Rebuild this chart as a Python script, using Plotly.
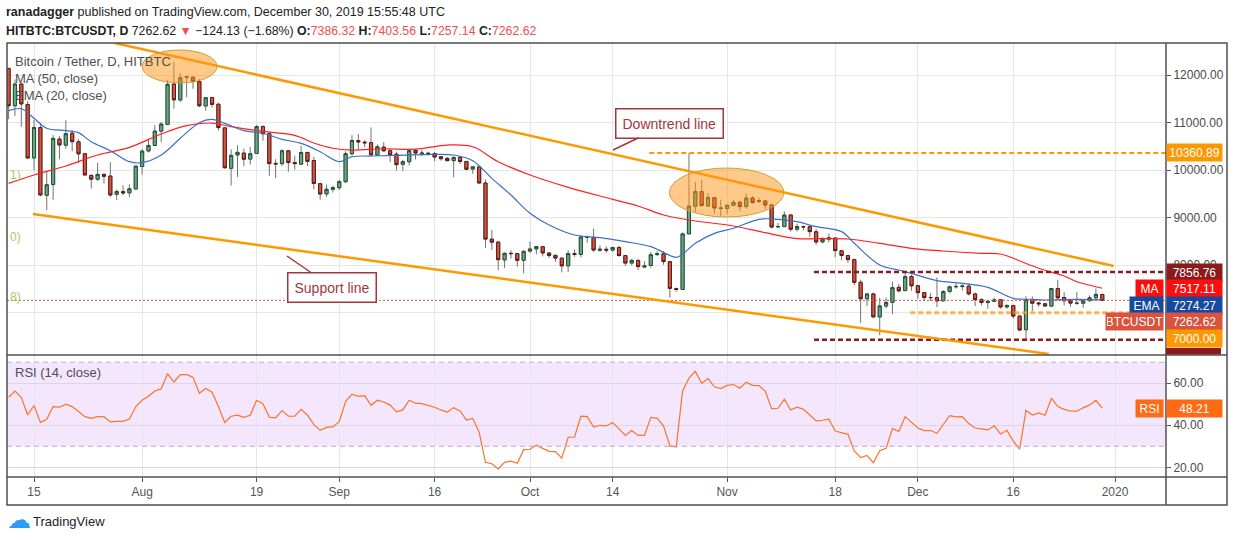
import pandas as pd
import plotly.graph_objects as go
from plotly.subplots import make_subplots

# daily candles, 2019-07-11 .. 2019-12-30
DATES = pd.date_range("2019-07-11", "2019-12-30", freq="D")

OPEN = [
    12139, 11354, 11810, 11381, 10257, 10896, 9471, 9698, 10653, 10525, 10777, 10596, 10346, 9887, 9809, 9913, 9876, 9492, 9549, 9523, 9604,
    10077, 10403, 10519, 10822, 10960, 11811, 11476, 11954, 11953, 11861, 11349, 11528, 11385, 10889, 10038, 10319, 10358, 10233, 10350, 10916, 10765, 10142, 10136, 10407, 10160, 10126, 10372, 10203, 9715, 9501, 9597,
    9631, 9757, 10345, 10621, 10588, 10578, 10318, 10484, 10409, 10336, 10123, 10177, 10415, 10345, 10356, 10347, 10281, 10248, 10200, 10266, 10183, 10024, 10067, 9729, 8550, 8487, 8113, 8251, 8246, 8104,
    8299, 8344, 8391, 8259, 8210, 8149, 7989, 8246, 8229, 8585, 8586, 8316, 8336, 8320, 8373, 8204, 8047, 8100, 7963, 7997, 8225, 8243, 8076, 7509, 7491, 8660, 9241, 9549, 9249, 9422, 9202,
    9193, 9259, 9324, 9235, 9414, 9340, 9353, 9268, 8809, 8813, 9057, 8759, 8812, 8812, 8705, 8491, 8549, 8573, 8305, 8204, 8120, 7643, 7297, 7398, 6915, 7145, 7220, 7536, 7467, 7764,
    7571, 7425, 7323, 7321, 7254, 7450, 7547, 7552, 7561, 7398, 7277, 7216, 7244, 7277, 7124, 7153, 6931, 6647, 7278, 7208, 7191, 7142, 7509, 7323, 7256, 7201, 7203, 7255, 7316, 7386.32,
]
HIGH = [
    12140, 11905, 11841, 11451, 11052, 10996, 9963, 10736, 10716, 11048, 10841, 10651, 10346, 9917, 10154, 9917, 10167, 9591, 9681, 9701, 10085,
    10447, 10657, 10946, 11010, 11895, 12273, 12036, 11979, 11970, 11915, 11523, 11528, 11420, 10889, 10437, 10524, 10452, 10487, 10947, 10947, 10796, 10232, 10440, 10418, 10305, 10512, 10382, 10279, 9715, 9697, 9673,
    9796, 10396, 10736, 10762, 10627, 10898, 10541, 10592, 10455, 10390, 10215, 10447, 10441, 10422, 10387, 10386, 10296, 10275, 10295, 10285, 10188, 10074, 10074, 9804, 8744, 8515, 8271, 8316, 8246, 8314,
    8497, 8385, 8392, 8260, 8215, 8161, 8316, 8332, 8627, 8625, 8775, 8420, 8397, 8390, 8410, 8216, 8134, 8138, 8082, 8281, 8297, 8296, 8092, 7532, 8691, 10360.89, 9749, 9805, 9517, 9424, 9383,
    9275, 9377, 9358, 9505, 9458, 9423, 9366, 9272, 8891, 9133, 9064, 8876, 8834, 8816, 8757, 8590, 8667, 8574, 8305, 8216, 8140, 7697, 7420, 7421, 7319, 7320, 7656, 7608, 7856.76, 7804,
    7571, 7427, 7418, 7743, 7480, 7575, 7621, 7599, 7618, 7425, 7305, 7266, 7319, 7279, 7181, 7171, 6965, 7350, 7346, 7223, 7194, 7519, 7696, 7436, 7272, 7436, 7291, 7365, 7513, 7403.56,
]
LOW = [
    11070, 11139, 10908, 10234, 9992, 9448, 9163, 9376, 10229, 10451, 10399, 10154, 9883, 9614, 9774, 9717, 9434, 9370, 9472, 9434, 9599,
    9908, 10371, 10503, 10591, 10960, 11291, 11433, 11534, 11710, 11323, 11248, 11320, 10830, 10028, 9675, 9856, 10086, 10119, 10350, 10618, 9882, 9831, 10088, 9968, 10008, 10126, 10087, 9601, 9379, 9440, 9531,
    9582, 9730, 10308, 10434, 10481, 10292, 10308, 10393, 10171, 9992, 9980, 10099, 10226, 10291, 10313, 10189, 10199, 10191, 9851, 10132, 10000, 9922, 9727, 8370, 8325, 7896, 7942, 8142, 7974, 7830,
    8263, 8227, 8185, 8151, 8071, 7849, 7856, 8177, 8169, 8471, 8285, 8284, 8260, 8284, 8182, 7985, 8001, 7902, 7944, 7949, 8196, 8010, 7320, 7446, 7479, 8657, 9112, 9230, 9232, 9085, 9028,
    9072, 9249, 9141, 9191, 9293, 9305, 9187, 8775, 8793, 8812, 8707, 8713, 8734, 8602, 8431, 8471, 8479, 8172, 8105, 8053, 7585, 6790, 7145, 6900, 6530, 7098, 6974, 7427, 7461, 7464,
    7291, 7247, 7250, 7119, 7233, 7410, 7508, 7473, 7365, 7141, 7156, 7086, 7236, 7089, 7089, 6874, 6617, 6435, 7038, 7129, 7127, 7142, 7269, 7157, 7129, 7169, 7105, 7238, 7289, 7257.14,
]
CLOSE = [
    11354, 11810, 11392, 10256, 10896, 9478, 9693, 10667, 10530, 10767, 10599, 10343, 9900, 9811, 9911, 9871, 9478, 9552, 9519, 9607, 10085,
    10399, 10519, 10821, 10970, 11805, 11478, 11941, 11966, 11862, 11354, 11523, 11382, 10895, 10051, 10311, 10374, 10231, 10345, 10916, 10764, 10138, 10131, 10407, 10159, 10138, 10370, 10185, 9722, 9498, 9598, 9631,
    9758, 10347, 10624, 10594, 10576, 10321, 10491, 10406, 10324, 10115, 10178, 10410, 10360, 10358, 10347, 10276, 10241, 10199, 10266, 10181, 10019, 10070, 9730, 8550, 8486, 8118, 8251, 8245, 8104, 8293,
    8343, 8393, 8260, 8205, 8151, 7988, 8245, 8228, 8595, 8586, 8321, 8336, 8321, 8374, 8205, 8047, 8103, 7973, 7988, 8222, 8243, 8078, 7514, 7493, 8660, 9244, 9551, 9256, 9427, 9205, 9199,
    9261, 9324, 9235, 9413, 9320, 9360, 9267, 8804, 8813, 9055, 8757, 8815, 8808, 8708, 8491, 8550, 8577, 8309, 8206, 8120, 7642, 7296, 7397, 6915, 7146, 7219, 7531, 7463, 7761, 7569,
    7424, 7321, 7320, 7252, 7448, 7547, 7556, 7564, 7400, 7278, 7217, 7243, 7269, 7124, 7152, 6932, 6640, 7276, 7203, 7191, 7145, 7512, 7317, 7256, 7205, 7202, 7254, 7316, 7388, 7262.62,
]

RSI = [
    53.3, 56.3, 53.3, 44.9, 49.4, 41.4, 42.9, 48.9, 48.6, 50.0, 48.9, 46.5, 44.1, 43.3, 44.1, 44.1, 41.6, 41.9, 41.9, 43.0, 48.9,
    51.9, 53.8, 56.3, 57.3, 64.6, 60.6, 64.1, 64.1, 62.9, 55.2, 57.5, 55.7, 48.9, 41.4, 44.3, 44.8, 43.8, 44.8, 51.9, 50.3, 43.8, 43.5, 47.0, 44.3, 44.3, 47.6, 44.9, 40.3, 37.6, 39.0, 39.2,
    41.7, 51.3, 54.8, 53.8, 54.1, 49.5, 51.9, 51.1, 49.6, 46.4, 47.3, 51.9, 50.5, 50.3, 49.4, 48.6, 47.3, 46.3, 48.4, 46.8, 42.5, 43.3, 36.7, 22.4, 21.7, 19.2, 22.4, 22.9, 21.9, 28.4,
    28.6, 30.5, 29.0, 27.6, 27.5, 24.4, 34.3, 34.4, 44.3, 44.1, 39.2, 40.0, 39.7, 41.3, 38.3, 35.2, 37.5, 35.2, 35.2, 43.8, 43.3, 39.7, 30.2, 29.7, 56.3, 62.4, 65.7, 60.0, 62.2, 58.3, 57.5,
    59.0, 59.4, 57.6, 60.5, 59.0, 58.9, 56.3, 47.8, 48.1, 52.4, 47.3, 48.6, 47.6, 44.9, 42.1, 42.4, 42.9, 37.3, 36.5, 35.7, 27.8, 24.6, 25.7, 22.2, 27.9, 29.0, 38.4, 37.1, 44.1, 41.4,
    38.7, 37.5, 37.5, 36.2, 40.6, 44.6, 44.0, 44.1, 40.8, 38.7, 38.3, 37.8, 39.8, 35.9, 37.6, 32.5, 28.6, 47.1, 44.9, 45.9, 44.8, 52.9, 48.9, 47.6, 46.8, 46.7, 48.3, 49.7, 51.9, 48.21,
]

# MA (50)
MA_DATES = ["2019-07-11", "2019-07-15", "2019-07-20", "2019-07-25", "2019-07-30", "2019-08-04", "2019-08-08",
            "2019-08-12", "2019-08-15", "2019-08-20", "2019-08-25", "2019-08-28", "2019-08-31", "2019-09-03",
            "2019-09-08", "2019-09-13", "2019-09-18", "2019-09-22", "2019-09-26", "2019-10-01", "2019-10-07",
            "2019-10-14", "2019-10-18", "2019-10-22", "2019-10-26", "2019-11-02", "2019-11-07", "2019-11-12",
            "2019-11-15", "2019-11-20", "2019-11-25", "2019-11-30", "2019-12-05", "2019-12-11", "2019-12-14",
            "2019-12-16", "2019-12-20", "2019-12-24", "2019-12-26", "2019-12-30"]
MA_VALUES = [9723, 9898, 10087, 10318, 10480, 10760, 10935,
             10990, 10914, 10815, 10730, 10570, 10460, 10423,
             10450, 10440, 10528, 10493, 10178, 9898, 9639,
             9387, 9246, 9057, 8952, 8826, 8685, 8560,
             8559, 8553, 8462, 8357, 8300, 8252, 8237,
             8147, 7937, 7775, 7655, 7517.11]

# EMA (20)
EMA_DATES = ["2019-07-11", "2019-07-13", "2019-07-15", "2019-07-17", "2019-07-20", "2019-07-22", "2019-07-24",
             "2019-07-27", "2019-07-30", "2019-08-01", "2019-08-04", "2019-08-07", "2019-08-10", "2019-08-12",
             "2019-08-14", "2019-08-17", "2019-08-20", "2019-08-23", "2019-08-26", "2019-08-29", "2019-09-01",
             "2019-09-03", "2019-09-06", "2019-09-10", "2019-09-16", "2019-09-19", "2019-09-22", "2019-09-25",
             "2019-09-28", "2019-10-01", "2019-10-04", "2019-10-08", "2019-10-12", "2019-10-16", "2019-10-20",
             "2019-10-24", "2019-10-25", "2019-10-27", "2019-10-30", "2019-11-02", "2019-11-06", "2019-11-09",
             "2019-11-12", "2019-11-15", "2019-11-19", "2019-11-21", "2019-11-25", "2019-11-28", "2019-11-30",
             "2019-12-04", "2019-12-08", "2019-12-12", "2019-12-16", "2019-12-19", "2019-12-21", "2019-12-26",
             "2019-12-30"]
EMA_VALUES = [11250, 11290, 11089, 10880, 10830, 10788, 10598,
              10409, 10178, 10157, 10318, 10669, 10998, 11068,
              10984, 10830, 10775, 10648, 10564, 10388, 10178,
              10283, 10297, 10310, 10333, 10318, 10199, 9828,
              9477, 9093, 8847, 8637, 8580, 8496, 8391,
              8168, 8237, 8462, 8672, 8778, 8967, 8967,
              8917, 8812, 8707, 8462, 8006, 7901, 7831,
              7676, 7621, 7537, 7306, 7285, 7270, 7285,
              7274.27]

TICK_DATES = ["2019-07-15", "2019-08-01", "2019-08-19", "2019-09-01", "2019-09-16", "2019-10-01",
              "2019-10-14", "2019-11-01", "2019-11-18", "2019-12-01", "2019-12-16", "2020-01-01"]
TICK_TEXT = ["15", "Aug", "19", "Sep", "16", "Oct", "14", "Nov", "18", "Dec", "16", "2020"]

# the 7000 label sits under the value boxes, only its grid line shows
PRICE_TICKS = [7000, 8000, 9000, 10000, 11000, 12000]
PRICE_TICK_TEXT = ["", "8000.00", "9000.00", "10000.00", "11000.00", "12000.00"]
RSI_TICKS = [20, 40, 60]
RSI_TICK_TEXT = ["20.00", "40.00", "60.00"]

X_RANGE = ["2019-07-10 18:00", "2020-01-09 00:30"]
PRICE_RANGE = [6114, 12673]
RSI_RANGE = [15.4, 73.2]

# drawings on the chart
UPPER_LINE = [("2019-07-27 16:00", 12673), ("2019-12-31 19:00", 7985)]
LOWER_LINE = [("2019-07-14 20:00", 9078), ("2019-12-21 14:00", 6135)]

UP_FILL, UP_BORDER = "#6ba583", "#225437"
DOWN_FILL, DOWN_BORDER = "#d75442", "#5b1a13"
WICK = "#737375"
ORANGE = "#ff9800"
DARK_RED = "#8b1a1a"
CALLOUT = "#a3363c"
FONT = "Liberation Sans"

# pixel geometry of the plotting area
PL, PR, PT, PB = 7, 1166, 43, 477


def px_x(x):
    return (x - PL) / (PR - PL)


def px_y(y):
    return (PB - y) / (PB - PT)


fig = make_subplots(rows=2, cols=1, shared_xaxes=True, vertical_spacing=0)

# wicks (gray), then bodies with darker borders on top
fig.add_trace(go.Candlestick(x=DATES, open=OPEN, high=HIGH, low=LOW, close=CLOSE,
                             increasing=dict(line=dict(color=WICK, width=1), fillcolor=UP_FILL),
                             decreasing=dict(line=dict(color=WICK, width=1), fillcolor=DOWN_FILL),
                             whiskerwidth=0, showlegend=False, hoverinfo="skip"), row=1, col=1)
body_hi = [max(o, c) for o, c in zip(OPEN, CLOSE)]
body_lo = [min(o, c) for o, c in zip(OPEN, CLOSE)]
fig.add_trace(go.Candlestick(x=DATES, open=OPEN, high=body_hi, low=body_lo, close=CLOSE,
                             increasing=dict(line=dict(color=UP_BORDER, width=1), fillcolor=UP_FILL),
                             decreasing=dict(line=dict(color=DOWN_BORDER, width=1), fillcolor=DOWN_FILL),
                             whiskerwidth=0, showlegend=False, hoverinfo="skip"), row=1, col=1)

fig.add_trace(go.Scatter(x=pd.to_datetime(MA_DATES), y=MA_VALUES, mode="lines", line_shape="spline",
                         line=dict(color="#ff2020", width=1.2), showlegend=False, hoverinfo="skip"),
              row=1, col=1)
fig.add_trace(go.Scatter(x=pd.to_datetime(EMA_DATES), y=EMA_VALUES, mode="lines", line_shape="spline",
                         line=dict(color="#3d6fc6", width=1.2), showlegend=False, hoverinfo="skip"),
              row=1, col=1)

fig.add_trace(go.Scatter(x=DATES, y=RSI, mode="lines", line=dict(color="#ff7326", width=1.2),
                         showlegend=False, hoverinfo="skip"), row=2, col=1)

shapes = []
# RSI band 30-70
shapes.append(dict(type="rect", xref="paper", yref="y2", x0=0, x1=1, y0=30, y1=70,
                   fillcolor="#f3e6fd", line=dict(width=0), layer="below"))
for lvl in (30, 70):
    shapes.append(dict(type="line", xref="paper", yref="y2", x0=0, x1=1, y0=lvl, y1=lvl,
                       line=dict(color="#b8b0c2", width=1, dash="5px,4px")))

# price line
shapes.append(dict(type="line", xref="paper", yref="y", x0=0, x1=1, y0=CLOSE[-1], y1=CLOSE[-1],
                   line=dict(color=DOWN_FILL, width=1, dash="2px,2px")))

# horizontal levels
shapes.append(dict(type="line", xref="x", yref="y", x0="2019-10-19 18:00", x1=X_RANGE[1],
                   y0=10360.89, y1=10360.89, line=dict(color=ORANGE, width=2, dash="5px,3px")))
for lvl in (7856.76, 6435):
    shapes.append(dict(type="line", xref="x", yref="y", x0="2019-11-14 16:00", x1=X_RANGE[1],
                       y0=lvl, y1=lvl, line=dict(color=DARK_RED, width=2.5, dash="5px,3px")))
shapes.append(dict(type="line", xref="x", yref="y", x0="2019-11-29 19:00", x1=X_RANGE[1],
                   y0=7000, y1=7000, line=dict(color="rgba(255,160,30,0.75)", width=3, dash="5px,3px")))

# channel lines
for (x0, y0), (x1, y1) in (UPPER_LINE, LOWER_LINE):
    shapes.append(dict(type="line", xref="x", yref="y", x0=x0, y0=y0, x1=x1, y1=y1,
                       line=dict(color=ORANGE, width=2.5)))

# highlight ellipses
for x0, x1, y0, y1 in (("2019-08-01", "2019-08-12 19:00", 11832, 12526),
                       ("2019-10-22 22:00", "2019-11-09 22:00", 9015, 10045)):
    shapes.append(dict(type="circle", xref="x", yref="y", x0=x0, x1=x1, y0=y0, y1=y1,
                       fillcolor="rgba(255,150,20,0.5)", line=dict(color="#c9a23a", width=1)))

# frame
right = px_x(1227)
bottom = px_y(505)
frame = dict(color="#505050", width=1.5)
shapes.append(dict(type="rect", xref="paper", yref="paper", x0=0, x1=right, y0=bottom, y1=1, line=frame))
shapes.append(dict(type="line", xref="paper", yref="paper", x0=1, x1=1, y0=bottom, y1=1, line=frame))
shapes.append(dict(type="line", xref="paper", yref="paper", x0=0, x1=right, y0=px_y(355), y1=px_y(355), line=frame))
shapes.append(dict(type="line", xref="paper", yref="paper", x0=0, x1=right, y0=0, y1=0, line=frame))
# 6435 label, mostly hidden below the pane
shapes.append(dict(type="rect", xref="paper", yref="paper", x0=1, x1=px_x(1221), y0=px_y(354.5), y1=px_y(348),
                   fillcolor=DARK_RED, line=dict(width=0)))

ann = []


def text(x, y, s, size=13, color="#4f4f4f", anchor="left"):
    ann.append(dict(xref="paper", yref="paper", x=px_x(x), y=px_y(y), text=s, showarrow=False,
                    xanchor=anchor, yanchor="middle", font=dict(family=FONT, size=size, color=color)))


red = "#ef4f4f"
text(4, 12, "<b>ranadagger</b> published on TradingView.com, December 30, 2019 15:55:48 UTC",
     size=12.5, color="#222")
text(4, 31, "<b>HITBTC:BTCUSDT, D</b> 7262.62 <span style='color:%s'>▼</span> −124.13 (−1.68%%) "
     "<b>O:</b><span style='color:%s'>7386.32</span> <b>H:</b><span style='color:%s'>7403.56</span> "
     "<b>L:</b><span style='color:%s'>7257.14</span> <b>C:</b><span style='color:%s'>7262.62</span>"
     % (red, red, red, red, red), size=12.3, color="#222")
text(13, 62, "Bitcoin / Tether, D, HITBTC")
text(13, 78, "MA (50, close)")
text(13, 95, "EMA (20, close)")
text(13, 372, "RSI (14, close)")
for y, s in ((175, "1)"), (237, "0)"), (297, "8)")):
    text(8, y, s, size=12, color="#9dcf63")
text(31, 521, "TradingView", size=13, color="#1e222d")
text(5, 519, "☁", size=24, color="#2a9df4")


def axis_label(s, value, bg, yref="y", shift=0):
    ann.append(dict(xref="paper", yref=yref, x=1.0, y=value, yshift=shift, text=s, showarrow=False,
                    xanchor="left", yanchor="middle", bgcolor=bg, width=53, height=15, borderpad=1,
                    font=dict(family=FONT, size=12, color="white")))


def name_label(s, value, bg, w, yref="y", shift=0):
    ann.append(dict(xref="paper", yref=yref, x=px_x(1164), y=value, yshift=shift, text=s, showarrow=False,
                    xanchor="right", yanchor="middle", bgcolor=bg, width=w, height=15, borderpad=1,
                    font=dict(family=FONT, size=12, color="white")))


axis_label("10360.89", 10360.89, ORANGE)
axis_label("7856.76", 7856.76, DARK_RED)
axis_label("7517.11", MA_VALUES[-1], "#ff0d0d")
name_label("MA", MA_VALUES[-1], "#ff0d0d", 25)
axis_label("7274.27", EMA_VALUES[-1], "#164a9e", shift=-5.5)
name_label("EMA", EMA_VALUES[-1], "#164a9e", 31, shift=-5.5)
axis_label("7262.62", CLOSE[-1], "#d9533f", shift=-21.6)
name_label("BTCUSDT", CLOSE[-1], "#d9533f", 55, shift=-21.6)
axis_label("7000.00", 7000, ORANGE, shift=-25.8)
axis_label("48.21", RSI[-1], "#ff6a12", yref="y2")
name_label("RSI", RSI[-1], "#ff6a12", 25, yref="y2")

# callouts
for label, tip, box in (("Downtrend line", (613, 150), (669.5, 123)),
                        ("Support line", (287, 256), (332, 287))):
    ann.append(dict(xref="paper", yref="paper", x=px_x(tip[0]), y=px_y(tip[1]),
                    ax=box[0] - tip[0], ay=box[1] - tip[1], text=label, showarrow=True,
                    arrowhead=0, arrowwidth=1.5, arrowcolor=CALLOUT, bgcolor="white",
                    bordercolor=CALLOUT, borderwidth=1.5, borderpad=6,
                    font=dict(family=FONT, size=14, color=CALLOUT)))

fig.update_layout(
    width=1234, height=540,
    margin=dict(l=PL, r=1234 - PR, t=PT, b=540 - PB),
    paper_bgcolor="white", plot_bgcolor="white",
    font=dict(family=FONT, size=12, color="#4a4a4a"),
    showlegend=False, hovermode=False,
    shapes=shapes, annotations=ann,
)
fig.update_xaxes(range=X_RANGE, tickvals=TICK_DATES, ticktext=TICK_TEXT, showgrid=True,
                 gridcolor="#e6e6e6", zeroline=False, showline=False, rangeslider_visible=False)
fig.update_xaxes(showticklabels=False, ticks="", row=1, col=1)
fig.update_xaxes(ticks="outside", ticklen=4, tickcolor="#555", tickfont=dict(size=12, color="#555"),
                 row=2, col=1)
fig.update_yaxes(domain=[px_y(355), 1], range=PRICE_RANGE, side="right",
                 tickvals=PRICE_TICKS, ticktext=PRICE_TICK_TEXT,
                 showgrid=True, gridcolor="#e6e6e6", zeroline=False, ticks="outside", ticklen=4,
                 tickcolor="#555", tickfont=dict(size=12, color="#4a4a4a"), row=1, col=1)
fig.update_yaxes(domain=[0, px_y(355.5)], range=RSI_RANGE, side="right",
                 tickvals=RSI_TICKS, ticktext=RSI_TICK_TEXT,
                 showgrid=True, gridcolor="#ddd5e6", zeroline=False, ticks="outside",
                 ticklen=4, tickcolor="#555", tickfont=dict(size=12, color="#4a4a4a"), row=2, col=1)

# the page's default body margin would shift the whole figure by 8px
fig.write_html("out.html", config={"displayModeBar": False},
               post_script="document.body.style.margin = '0';")
